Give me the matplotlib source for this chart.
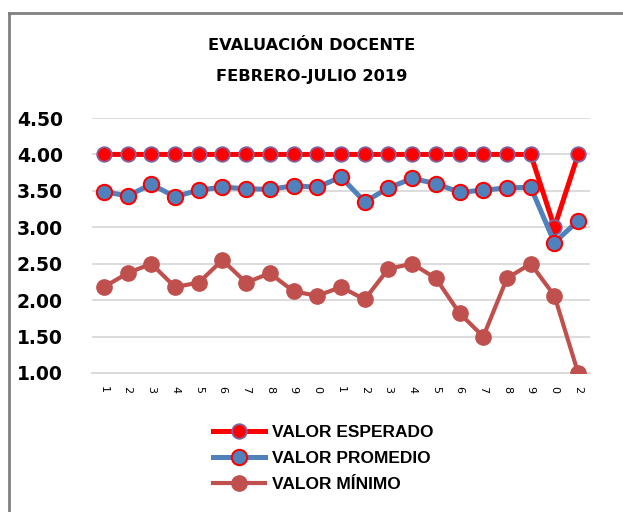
import matplotlib
matplotlib.use('Agg')
import matplotlib.pyplot as plt
from matplotlib.lines import Line2D

# evaluacion docente febrero-julio 2019
etiquetas = ['1', '2', '3', '4', '5', '6', '7', '8', '9', '0',
             '1', '2', '3', '4', '5', '6', '7', '8', '9', '0', '2']
esperado = [4.00] * 19 + [3.00, 4.00]
promedio = [3.49, 3.43, 3.59, 3.42, 3.51, 3.55, 3.53, 3.52, 3.57, 3.55,
            3.69, 3.35, 3.54, 3.67, 3.60, 3.48, 3.51, 3.54, 3.55, 2.79, 3.09]
minimo = [2.18, 2.37, 2.50, 2.18, 2.24, 2.55, 2.24, 2.37, 2.12, 2.06,
          2.18, 2.01, 2.43, 2.50, 2.30, 1.82, 1.50, 2.30, 2.50, 2.06, 1.00]
yticks = [1.0, 1.5, 2.0, 2.5, 3.0, 3.5, 4.0, 4.5]

x = list(range(len(etiquetas)))

fig = plt.figure(figsize=(6.23, 5.12), dpi=100)
ax = fig.add_axes([92/623, 1-373/512, 498/623, 255/512])

l1, = ax.plot(x, esperado, color='#FF0000', lw=3.6, marker='o', ms=10.5,
              mfc='#FF0000', mec='#8064A2', mew=1.3, label='VALOR ESPERADO', zorder=3)
l2, = ax.plot(x, promedio, color='#4F81BD', lw=3.6, marker='o', ms=11,
              mfc='#4F81BD', mec='#FF0000', mew=1.5, label='VALOR PROMEDIO', zorder=4)
l3, = ax.plot(x, minimo, color='#C0504D', lw=3.0, marker='o', ms=11,
              mfc='#C0504D', mec='#C0504D', mew=1, label='VALOR MÍNIMO', zorder=4)

ax.set_xlim(-0.5, len(x) - 0.5)
ax.set_ylim(1.0, 4.5)
ax.set_yticks(yticks)
ax.set_yticklabels(['%.2f' % v for v in yticks], fontsize=13.5, fontweight='bold',
                   family='DejaVu Sans')
ax.set_xticks(x)
ax.set_xticklabels(etiquetas, rotation=-90, fontsize=8, family='DejaVu Sans')
ax.tick_params(axis='y', length=0, pad=21)
ax.tick_params(axis='x', length=0, pad=9)
ax.grid(axis='y', color='#D9D9D9', lw=1.3, zorder=0)
for s in ['top', 'right', 'left']:
    ax.spines[s].set_visible(False)
ax.spines['bottom'].set_color('#D9D9D9')
ax.spines['bottom'].set_linewidth(1.3)
ax.set_axisbelow(True)

fig.text(312/623, 1-46/512, 'EVALUACIÓN DOCENTE', ha='center', va='center',
         fontsize=11.7, fontweight='bold', family='DejaVu Sans')
fig.text(312/623, 1-77/512, 'FEBRERO-JULIO 2019', ha='center', va='center',
         fontsize=11.7, fontweight='bold', family='DejaVu Sans')

leg = fig.legend(handles=[l1, l2, l3], loc='upper left',
                 bbox_to_anchor=(206/623, 1-418/512), frameon=False,
                 prop={'family': 'Liberation Sans', 'weight': 'bold', 'size': 12.5},
                 handlelength=3.0, handletextpad=0.4, labelspacing=0.62,
                 borderaxespad=0)

# borde del grafico
fig.add_artist(Line2D([8.5/623, 8.5/623], [0, 1-12.5/512], color='#808080', lw=2,
                      transform=fig.transFigure))
fig.add_artist(Line2D([8.5/623, 1], [1-12.5/512, 1-12.5/512], color='#808080', lw=2,
                      transform=fig.transFigure))

fig.savefig('out.png', dpi=100)
